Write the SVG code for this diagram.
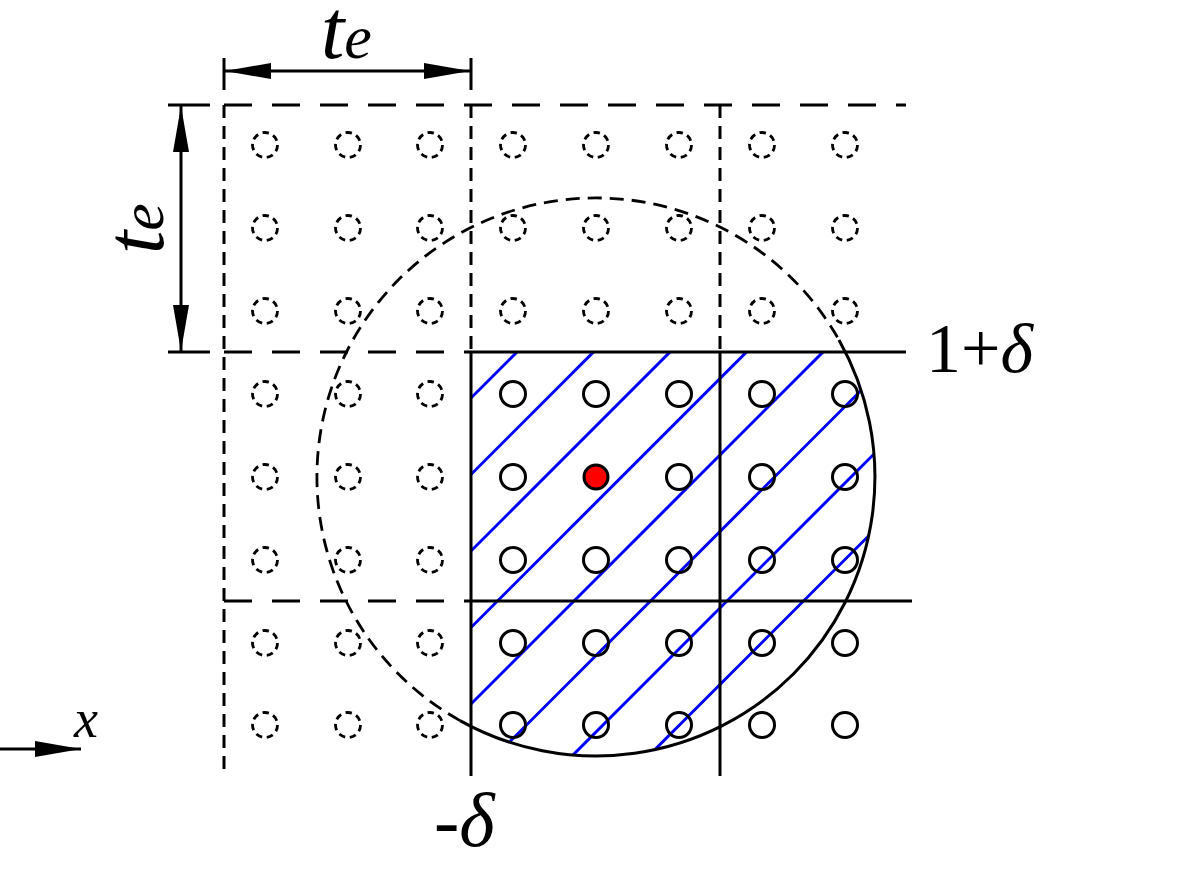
<svg xmlns="http://www.w3.org/2000/svg" width="1196" height="869" viewBox="0 0 1196 869">
<style>
.ln{stroke:#000;stroke-width:3;fill:none}
.dh{stroke:#000;stroke-width:3;fill:none;stroke-dasharray:28 20}
.dv{stroke:#000;stroke-width:3;fill:none;stroke-dasharray:13 8}
.dc{stroke:#000;stroke-width:2.8;fill:none;stroke-dasharray:14 8}
.sc{stroke:#000;stroke-width:3;fill:none}
.sd{stroke:#000;stroke-width:2.8;fill:none;stroke-dasharray:6.5 4.7}
.hat{stroke:#0000ff;stroke-width:3;fill:none}
.lbl{font-family:"Liberation Serif","Times New Roman",serif;fill:#000}
</style>
<defs>
<marker id="ah" viewBox="0 0 46 16" refX="46" refY="8" markerWidth="46" markerHeight="16" markerUnits="userSpaceOnUse" orient="auto-start-reverse">
<path d="M0,0 L46,8 L0,16 Z" fill="#000"/>
</marker>
<clipPath id="hc">
<path d="M471,352 L845.4,352 A279,279 0 0 1 471,726 Z"/>
</clipPath>
</defs>
<rect width="1196" height="869" fill="#fff"/>
<g id="hatch" clip-path="url(#hc)">
<line class="hat" x1="400" y1="469" x2="950" y2="-81"/>
<line class="hat" x1="400" y1="545.5" x2="950" y2="-4.5"/>
<line class="hat" x1="400" y1="622" x2="950" y2="72"/>
<line class="hat" x1="400" y1="698.5" x2="950" y2="148.5"/>
<line class="hat" x1="400" y1="775" x2="950" y2="225"/>
<line class="hat" x1="400" y1="851.5" x2="950" y2="301.5"/>
<line class="hat" x1="400" y1="928" x2="950" y2="378"/>
<line class="hat" x1="400" y1="1004.5" x2="950" y2="454.5"/>
</g>
<g id="grid">
<line class="dv" x1="224" y1="105" x2="224" y2="776"/>
<line class="dv" x1="471" y1="105" x2="471" y2="352"/>
<line class="ln" x1="471" y1="352" x2="471" y2="776"/>
<line class="dv" x1="720" y1="105" x2="720" y2="352"/>
<line class="ln" x1="720" y1="352" x2="720" y2="776"/>
<line class="dh" x1="224" y1="105" x2="906" y2="105"/>
<line class="dh" x1="224" y1="352" x2="471" y2="352"/>
<line class="ln" x1="471" y1="352" x2="906" y2="352"/>
<line class="dh" x1="224" y1="601" x2="471" y2="601"/>
<line class="ln" x1="471" y1="601" x2="912" y2="601"/>
</g>
<g id="big-circle">
<path class="ln" d="M839,340 A279,279 0 0 1 460,720.6"/>
<path class="dc" d="M460,720.6 A279,279 0 1 1 839,340"/>
</g>
<g id="points">
<g id="dashed-points">
<circle class="sd" cx="265" cy="145" r="12.5"/><circle class="sd" cx="348" cy="145" r="12.5"/><circle class="sd" cx="430" cy="145" r="12.5"/><circle class="sd" cx="513" cy="145" r="12.5"/><circle class="sd" cx="596" cy="145" r="12.5"/><circle class="sd" cx="679" cy="145" r="12.5"/><circle class="sd" cx="762" cy="145" r="12.5"/><circle class="sd" cx="845" cy="145" r="12.5"/>
<circle class="sd" cx="265" cy="228" r="12.5"/><circle class="sd" cx="348" cy="228" r="12.5"/><circle class="sd" cx="430" cy="228" r="12.5"/><circle class="sd" cx="513" cy="228" r="12.5"/><circle class="sd" cx="596" cy="228" r="12.5"/><circle class="sd" cx="679" cy="228" r="12.5"/><circle class="sd" cx="762" cy="228" r="12.5"/><circle class="sd" cx="845" cy="228" r="12.5"/>
<circle class="sd" cx="265" cy="311" r="12.5"/><circle class="sd" cx="348" cy="311" r="12.5"/><circle class="sd" cx="430" cy="311" r="12.5"/><circle class="sd" cx="513" cy="311" r="12.5"/><circle class="sd" cx="596" cy="311" r="12.5"/><circle class="sd" cx="679" cy="311" r="12.5"/><circle class="sd" cx="762" cy="311" r="12.5"/><circle class="sd" cx="845" cy="311" r="12.5"/>
<circle class="sd" cx="265" cy="394" r="12.5"/><circle class="sd" cx="348" cy="394" r="12.5"/><circle class="sd" cx="430" cy="394" r="12.5"/>
<circle class="sd" cx="265" cy="477" r="12.5"/><circle class="sd" cx="348" cy="477" r="12.5"/><circle class="sd" cx="430" cy="477" r="12.5"/>
<circle class="sd" cx="265" cy="560" r="12.5"/><circle class="sd" cx="348" cy="560" r="12.5"/><circle class="sd" cx="430" cy="560" r="12.5"/>
<circle class="sd" cx="265" cy="643" r="12.5"/><circle class="sd" cx="348" cy="643" r="12.5"/><circle class="sd" cx="430" cy="643" r="12.5"/>
<circle class="sd" cx="265" cy="725" r="12.5"/><circle class="sd" cx="348" cy="725" r="12.5"/><circle class="sd" cx="430" cy="725" r="12.5"/>
</g>
<g id="solid-points">
<circle class="sc" cx="513" cy="394" r="12.5"/><circle class="sc" cx="596" cy="394" r="12.5"/><circle class="sc" cx="679" cy="394" r="12.5"/><circle class="sc" cx="762" cy="394" r="12.5"/><circle class="sc" cx="845" cy="394" r="12.5"/>
<circle class="sc" cx="513" cy="477" r="12.5"/><circle class="sc" cx="679" cy="477" r="12.5"/><circle class="sc" cx="762" cy="477" r="12.5"/><circle class="sc" cx="845" cy="477" r="12.5"/>
<circle class="sc" cx="513" cy="560" r="12.5"/><circle class="sc" cx="596" cy="560" r="12.5"/><circle class="sc" cx="679" cy="560" r="12.5"/><circle class="sc" cx="762" cy="560" r="12.5"/><circle class="sc" cx="845" cy="560" r="12.5"/>
<circle class="sc" cx="513" cy="643" r="12.5"/><circle class="sc" cx="596" cy="643" r="12.5"/><circle class="sc" cx="679" cy="643" r="12.5"/><circle class="sc" cx="762" cy="643" r="12.5"/><circle class="sc" cx="845" cy="643" r="12.5"/>
<circle class="sc" cx="513" cy="725" r="12.5"/><circle class="sc" cx="596" cy="725" r="12.5"/><circle class="sc" cx="679" cy="725" r="12.5"/><circle class="sc" cx="762" cy="725" r="12.5"/><circle class="sc" cx="845" cy="725" r="12.5"/>
</g>
<circle id="center-point" cx="596" cy="477" r="12" fill="#ff0000" stroke="#000" stroke-width="3"/>
</g>
<g id="dimensions">
<line class="ln" x1="224" y1="58" x2="224" y2="90"/>
<line class="ln" x1="471" y1="58" x2="471" y2="90"/>
<line class="ln" x1="168" y1="105" x2="210" y2="105"/>
<line class="ln" x1="168" y1="352" x2="210" y2="352"/>
<line class="ln" x1="225" y1="71" x2="470" y2="71" marker-start="url(#ah)" marker-end="url(#ah)"/>
<line class="ln" x1="181" y1="106" x2="181" y2="351" marker-start="url(#ah)" marker-end="url(#ah)"/>
<line class="ln" x1="0" y1="749" x2="81" y2="749" marker-end="url(#ah)"/>
</g>
<g id="labels">
<text class="lbl" x="321" y="58" font-style="italic"><tspan font-size="84">t</tspan><tspan font-size="62">e</tspan></text>
<text class="lbl" transform="translate(163,254) rotate(-90)" x="0" y="0" font-style="italic"><tspan font-size="84">t</tspan><tspan font-size="62">e</tspan></text>
<text class="lbl" x="926" y="372" font-size="70">1+<tspan font-style="italic">δ</tspan></text>
<text class="lbl" x="434" y="846" font-size="76">-<tspan font-style="italic">δ</tspan></text>
<text class="lbl" x="74" y="737" font-size="54" font-style="italic">x</text>
</g>
</svg>
